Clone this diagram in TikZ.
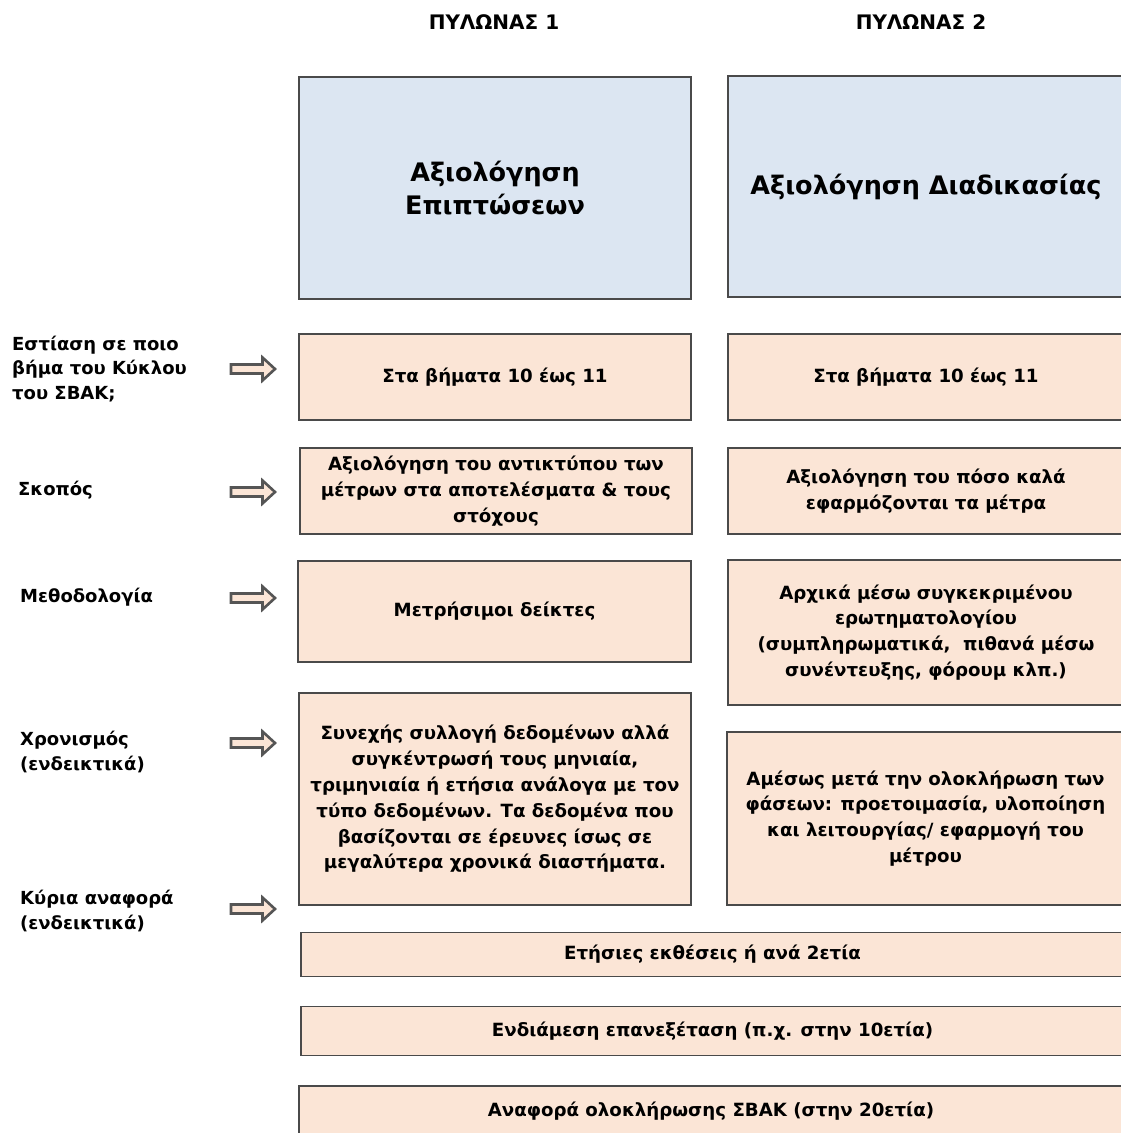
\documentclass[tikz,border=0pt]{standalone}
\usepackage{fontspec}
\setmainfont{DejaVu Sans}
\definecolor{peach}{HTML}{FBE5D6}
\definecolor{lblue}{HTML}{DCE6F2}
\definecolor{edge}{HTML}{4A4A4A}
\definecolor{arredge}{HTML}{555555}
\tikzset{
  pbox/.style={draw=edge, line width=1.5pt, fill=peach, inner sep=0pt, align=center,
    font=\bfseries\fontsize{18.2}{25.8}\selectfont},
  bbox/.style={pbox, fill=lblue, font=\bfseries\fontsize{25.5}{33}\selectfont},
  lbl/.style={anchor=west, align=left, inner sep=0pt, font=\bfseries\fontsize{18}{24.5}\selectfont},
  ttl/.style={inner sep=0pt, font=\bfseries\fontsize{20}{22}\selectfont},
  blkarrow/.style={draw=arredge, line width=2.6pt, fill=peach, line join=miter},
  blockarr/.pic={\draw[blkarrow] (-22,-4.5) -- (9.5,-4.5) -- (9.5,-11.5) -- (22,0) -- (9.5,11.5) -- (9.5,4.5) -- (-22,4.5) -- cycle;}
}
\begin{document}
\begin{tikzpicture}[x=1pt,y=-1pt]
\path[use as bounding box] (0,0) rectangle (1121,1133);
\clip (0,0) rectangle (1121,1133);
\fill[white] (0,0) rectangle (1121,1133);

% titles
\node[ttl] (t1) at (494,22) {ΠΥΛΩΝΑΣ 1};
\node[ttl] (t2) at (921,22) {ΠΥΛΩΝΑΣ 2};

% pillar boxes
\node[bbox, minimum width=392pt, minimum height=222pt] (p1) at (495,188) {Αξιολόγηση\\Επιπτώσεων};
\node[bbox, minimum width=396pt, minimum height=221pt] (p2) at (926,186.5) {Αξιολόγηση Διαδικασίας};

% row 1
\node[pbox, minimum width=392pt, minimum height=86pt] (a1) at (495,377) {Στα βήματα 10 έως 11};
\node[pbox, minimum width=396pt, minimum height=86pt] (b1) at (926,377) {Στα βήματα 10 έως 11};

% row 2
\node[pbox, minimum width=392pt, minimum height=86pt] (a2) at (496,491) {Αξιολόγηση του αντικτύπου των\\μέτρων στα αποτελέσματα \& τους\\στόχους};
\node[pbox, minimum width=396pt, minimum height=86pt] (b2) at (926,491) {Αξιολόγηση του πόσο καλά\\εφαρμόζονται τα μέτρα};

% row 3
\node[pbox, minimum width=393pt, minimum height=101pt] (a3) at (494.5,611.5) {Μετρήσιμοι δείκτες};
\node[pbox, minimum width=396pt, minimum height=145pt] (b3) at (926,632.5) {Αρχικά μέσω συγκεκριμένου\\ερωτηματολογίου\\(συμπληρωματικά,\ \ πιθανά μέσω\\συνέντευξης, φόρουμ κλπ.)};

% row 4
\node[pbox, minimum width=392pt, minimum height=212pt] (a4) at (495,799) {Συνεχής συλλογή δεδομένων αλλά\\συγκέντρωσή τους μηνιαία,\\τριμηνιαία ή ετήσια ανάλογα με τον\\τύπο δεδομένων. Τα δεδομένα που\\βασίζονται σε έρευνες ίσως σε\\μεγαλύτερα χρονικά διαστήματα.};
\node[pbox, minimum width=397pt, minimum height=173pt] (b4) at (925.5,818.5) {Αμέσως μετά την ολοκλήρωση των\\φάσεων: προετοιμασία, υλοποίηση\\και λειτουργίας/ εφαρμογή του\\μέτρου};

% bottom rows
\node[pbox, minimum width=823pt, minimum height=44pt] (c1) at (712.5,954.5) {Ετήσιες εκθέσεις ή ανά 2ετία};
\node[pbox, minimum width=823pt, minimum height=49pt] (c2) at (712.5,1031) {Ενδιάμεση επανεξέταση (π.χ. στην 10ετία)};
\node[pbox, minimum width=825pt, minimum height=54pt] (c3) at (711.5,1113) {};
\node[font=\bfseries\fontsize{18.2}{25.8}\selectfont, inner sep=0pt] (c3t) at (711,1111) {Αναφορά ολοκλήρωσης ΣΒΑΚ (στην 20ετία)};

% left labels
\node[lbl] (l1) at (12,369) {Εστίαση σε ποιο\\βήμα του Κύκλου\\του ΣΒΑΚ;};
\node[lbl] (l2) at (18,490) {Σκοπός};
\node[lbl] (l3) at (20,597) {Μεθοδολογία};
\node[lbl] (l4) at (20,752) {Χρονισμός\\(ενδεικτικά)};
\node[lbl] (l5) at (20,911) {Κύρια αναφορά\\(ενδεικτικά)};

% block arrows
\pic (r1) at (253,369) {blockarr};
\pic (r2) at (253,492) {blockarr};
\pic (r3) at (253,598) {blockarr};
\pic (r4) at (253,743) {blockarr};
\pic (r5) at (253,909) {blockarr};
\end{tikzpicture}
\end{document}
